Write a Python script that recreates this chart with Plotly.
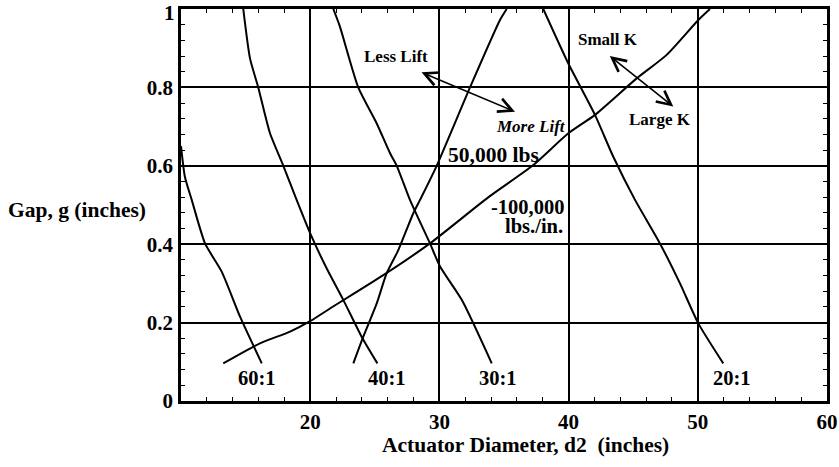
import plotly.graph_objects as go

# curves (x = actuator diameter, y = gap)
ratio_60_x = [10.0, 10.3, 10.83, 11.86, 13.15, 14.57, 16.25]
ratio_60_y = [0.65, 0.572, 0.513, 0.402, 0.33, 0.215, 0.096]

ratio_40_x = [14.82, 15.34, 15.98, 16.89, 17.92, 18.95, 20.06, 21.28, 22.56, 23.98, 25.2]
ratio_40_y = [1.0, 0.874, 0.8, 0.683, 0.6, 0.513, 0.423, 0.338, 0.258, 0.164, 0.096]

ratio_30_x = [21.79, 22.3, 23.72, 25.15, 26.18, 26.7, 27.72, 29.27, 30.05, 31.73, 34.05]
ratio_30_y = [1.0, 0.955, 0.8, 0.708, 0.632, 0.6, 0.513, 0.402, 0.343, 0.258, 0.096]

ratio_20_x = [38.04, 39.98, 42.04, 43.46, 45.14, 47.07, 48.62, 50.04, 51.97]
ratio_20_y = [1.0, 0.861, 0.73, 0.623, 0.513, 0.402, 0.3, 0.198, 0.096]

lift_x = [23.34, 24.11, 25.15, 25.92, 26.82, 27.98, 28.5, 29.79, 32.37, 34.69, 35.21]
lift_y = [0.096, 0.164, 0.249, 0.326, 0.385, 0.479, 0.513, 0.6, 0.8, 0.972, 1.0]

stiff_x = [13.27, 16.11, 18.44, 20.06, 21.53, 25.66, 29.27, 33.8, 37.27, 39.98, 42.04, 45.27, 47.59, 50.04, 50.94]
stiff_y = [0.096, 0.147, 0.177, 0.205, 0.236, 0.321, 0.402, 0.52, 0.602, 0.683, 0.73, 0.823, 0.883, 0.972, 1.0]

ratio_labels = ['60:1', '40:1', '30:1', '20:1']
ratio_label_x = [15.92, 25.98, 34.5, 52.65]

x_ticks = [20, 30, 40, 50, 60]
y_ticks = [0, 0.2, 0.4, 0.6, 0.8, 1]
y_tick_text = ['0', '0.2', '0.4', '0.6', '0.8', '']  # top "1" drawn as an annotation, sits a bit lower

FONT = 'Liberation Serif, Times New Roman, serif'

fig = go.Figure()
for xs, ys in [(ratio_60_x, ratio_60_y), (ratio_40_x, ratio_40_y), (ratio_30_x, ratio_30_y),
               (ratio_20_x, ratio_20_y), (lift_x, lift_y), (stiff_x, stiff_y)]:
    fig.add_trace(go.Scatter(x=xs, y=ys, mode='lines',
                             line=dict(color='black', width=2, shape='spline', smoothing=0.6),
                             showlegend=False, hoverinfo='skip'))

for lab, lx in zip(ratio_labels, ratio_label_x):
    fig.add_annotation(x=lx, y=0.058, text=lab, showarrow=False, font=dict(size=20.5))

# text labels
fig.add_annotation(x=34.17, y=0.628, text='50,000 lbs', showarrow=False, font=dict(size=21.5))
fig.add_annotation(x=39.8, y=0.494, text='-100,000', showarrow=False, xanchor='right', font=dict(size=20.5))
fig.add_annotation(x=39.75, y=0.447, text='lbs./in.', showarrow=False, xanchor='right', font=dict(size=20.5))
fig.add_annotation(x=26.63, y=0.88, text='Less Lift', showarrow=False, font=dict(size=17))
fig.add_annotation(x=37.09, y=0.70, text='<i>More Lift</i>', showarrow=False, font=dict(size=17))
fig.add_annotation(x=43.05, y=0.923, text='Small K', showarrow=False, font=dict(size=17))
fig.add_annotation(x=47.07, y=0.717, text='Large K', showarrow=False, font=dict(size=17))

# double headed arrows
for (x0, y0, x1, y1) in [(28.5, 0.84, 35.85, 0.738), (43.07, 0.883, 48.1, 0.751)]:
    fig.add_annotation(x=x1, y=y1, ax=x0, ay=y0, xref='x', yref='y', axref='x', ayref='y',
                       text='', showarrow=True, arrowhead=5, startarrowhead=5, arrowside='end+start',
                       arrowsize=1.7, startarrowsize=1.7, arrowwidth=1.6, arrowcolor='black')

# top y tick label
fig.add_annotation(xref='paper', yref='y', x=0, y=1, xanchor='right', yanchor='middle', xshift=-4,
                   yshift=-4, text='1', showarrow=False, font=dict(size=21))

# axis titles
fig.add_annotation(xref='paper', yref='paper', x=-0.271, y=0.487, xanchor='left', yanchor='middle',
                   text='Gap, g (inches)', showarrow=False, font=dict(size=21.5))
fig.add_annotation(xref='paper', yref='paper', x=0.534, y=-0.112, xanchor='center', yanchor='middle',
                   text='Actuator Diameter, d2\u00a0 (inches)', showarrow=False, font=dict(size=21.5))

fig.update_xaxes(range=[10, 60], tickvals=x_ticks, showgrid=True, gridcolor='black', gridwidth=1.6,
                 showline=True, linecolor='black', linewidth=2.5, mirror='allticks',
                 ticks='inside', ticklen=5, tickcolor='black', ticklabelstandoff=0,
                 ticklabeloverflow='allow',
                 minor=dict(dtick=2, ticks='inside', ticklen=4, tickcolor='black', showgrid=False),
                 zeroline=False, tickfont=dict(size=21), automargin=False)
fig.update_yaxes(range=[0, 1], tickvals=y_ticks, ticktext=y_tick_text, showgrid=True, gridcolor='black',
                 gridwidth=1.6, showline=True, linecolor='black', linewidth=2.5, mirror='allticks',
                 ticks='inside', ticklen=5, tickcolor='black', ticklabelstandoff=1,
                 ticklabeloverflow='allow',
                 minor=dict(dtick=0.04, ticks='inside', ticklen=4, tickcolor='black', showgrid=False),
                 zeroline=False, tickfont=dict(size=21), automargin=False)

fig.update_layout(width=839, height=467, margin=dict(l=181, r=12, t=9, b=66),
                  plot_bgcolor='white', paper_bgcolor='white',
                  font=dict(family=FONT, color='black', weight='bold'))

# page body has a default 8px margin; drop it so the figure fills the window
fig.write_html("out.html", config={'displayModeBar': False},
               post_script="document.body.style.margin='0';")
